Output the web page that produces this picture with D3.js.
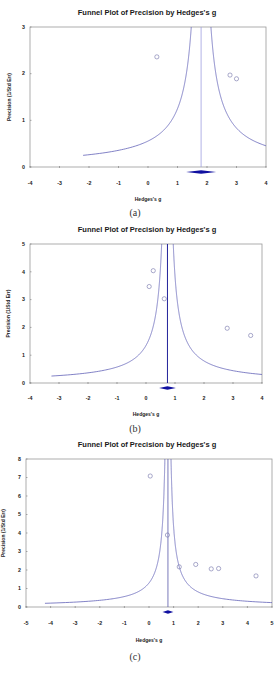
<!DOCTYPE html>
<html>
<head>
<meta charset="utf-8">
<script src="https://cdn.jsdelivr.net/npm/d3@7"></script>
<style>
  body { margin: 0; background: #fff; }
  svg { display: block; }
</style>
</head>
<body>
<svg id="chart" width="275" height="674"></svg>
<script>
// Panel data
var panelNames = ["(a)", "(b)", "(c)"];
var xDomains = [[-4, 4], [-4, 4], [-5, 5]];
var yDomains = [[0, 3], [0, 5], [0, 8]];
var xTickValues = [d3.range(-4, 5), d3.range(-4, 5), d3.range(-5, 6)];
var yTickValues = [d3.range(0, 4), d3.range(0, 6), d3.range(0, 9)];

var effectsA = [0.30, 2.78, 3.00];
var precisionA = [2.36, 1.97, 1.89];
var effectsB = [0.25, 0.11, 0.63, 2.80, 3.61];
var precisionB = [4.04, 3.47, 3.03, 1.97, 1.71];
var effectsC = [0.05, 0.75, 1.23, 1.90, 2.53, 2.83, 4.35];
var precisionC = [7.08, 3.89, 2.17, 2.30, 2.06, 2.08, 1.68];

var pooledMean = [1.80, 0.74, 0.77];
var pooledHalfWidth = [0.51, 0.29, 0.22];   // diamond half width (CI)
var funnelMinPrecision = [0.25, 0.25, 0.20];

var effects = [effectsA, effectsB, effectsC];
var precisions = [precisionA, precisionB, precisionC];

// layout of each panel (pixels)
var boxes = [
  { left: 30, right: 266, top: 27, bottom: 167, title: 15, ticks: 185, xlab: 201, cap: 216, ylabX: 9 },
  { left: 30, right: 262, top: 244, bottom: 383, title: 232, ticks: 400, xlab: 416, cap: 432, ylabX: 8 },
  { left: 26, right: 272, top: 459, bottom: 607, title: 447, ticks: 625, xlab: 642, cap: 660, ylabX: 3 }
];
var midLineColor = ["#a0a0e0", "#22229a", "#5858a8"];

var svg = d3.select("#chart");
var funnelColor = "#6262b8";
var pointColor = "#7070a8";
var labelFont = "Arial, 'Liberation Sans', sans-serif";

boxes.forEach(function(b, i) {
  var g = svg.append("g");
  var x = d3.scaleLinear().domain(xDomains[i]).range([b.left, b.right]);
  var y = d3.scaleLinear().domain(yDomains[i]).range([b.bottom, b.top]);
  var cx = (b.left + b.right) / 2;

  // title
  g.append("text")
    .attr("x", 147).attr("y", b.title)
    .attr("text-anchor", "middle")
    .style("font", "bold 7.5px " + labelFont)
    .attr("fill", "#1a1a1a")
    .text("Funnel Plot of Precision by Hedges's g");

  // clip for the funnel
  var clipId = "clip" + i;
  svg.append("defs").append("clipPath").attr("id", clipId)
    .append("rect")
    .attr("x", b.left).attr("y", b.top)
    .attr("width", b.right - b.left).attr("height", b.bottom - b.top);

  // frame
  g.append("rect")
    .attr("x", b.left).attr("y", b.top)
    .attr("width", b.right - b.left).attr("height", b.bottom - b.top)
    .attr("fill", "none").attr("stroke", "#9a9a9a").attr("stroke-width", 0.8);

  // funnel lines: mean +/- 1/precision
  var ps = d3.range(funnelMinPrecision[i], yDomains[i][1] + 0.5, 0.01);
  var line = d3.line().x(d => x(d[0])).y(d => y(d[1]));
  var m = pooledMean[i];
  [-1, 1].forEach(function(s) {
    g.append("path")
      .datum(ps.map(p => [m + s / p, p]))
      .attr("clip-path", "url(#" + clipId + ")")
      .attr("d", line)
      .attr("fill", "none")
      .attr("stroke", funnelColor)
      .attr("stroke-width", 0.8);
  });

  // vertical line at pooled effect
  g.append("line")
    .attr("x1", x(m)).attr("x2", x(m))
    .attr("y1", b.top).attr("y2", b.bottom)
    .attr("stroke", midLineColor[i])
    .attr("stroke-width", i === 1 ? 1 : 0.8);

  // ticks
  g.selectAll(".xt").data(xTickValues[i]).enter().append("line")
    .attr("x1", d => x(d)).attr("x2", d => x(d))
    .attr("y1", b.bottom - 1).attr("y2", b.bottom + 1)
    .attr("stroke", "#777").attr("stroke-width", 0.6);
  g.selectAll(".yt").data(yTickValues[i]).enter().append("line")
    .attr("x1", b.left).attr("x2", b.left + 1.5)
    .attr("y1", d => y(d)).attr("y2", d => y(d))
    .attr("stroke", "#777").attr("stroke-width", 0.6);

  // tick labels
  g.selectAll(".xl").data(xTickValues[i]).enter().append("text")
    .attr("x", d => x(d)).attr("y", b.ticks)
    .attr("text-anchor", "middle")
    .style("font", "bold 5.3px " + labelFont)
    .attr("fill", "#222")
    .text(d => d);
  g.selectAll(".yl").data(yTickValues[i]).enter().append("text")
    .attr("x", b.left - 5).attr("y", d => y(d) + 1.8)
    .attr("text-anchor", "end")
    .style("font", "bold 5.3px " + labelFont)
    .attr("fill", "#222")
    .text(d => d);

  // axis titles
  g.append("text")
    .attr("x", cx).attr("y", b.xlab)
    .attr("text-anchor", "middle")
    .style("font", "bold 5px " + labelFont)
    .attr("fill", "#222")
    .text("Hedges's g");
  g.append("text")
    .attr("transform", "translate(" + b.ylabX + "," + ((b.top + b.bottom) / 2) + ") rotate(-90)")
    .attr("text-anchor", "middle")
    .attr("dy", "0.35em")
    .style("font", "bold 5px " + labelFont)
    .attr("fill", "#222")
    .text("Precision (1/Std Err)");

  // study points
  g.selectAll(".pt").data(d3.zip(effects[i], precisions[i])).enter().append("circle")
    .attr("cx", d => x(d[0])).attr("cy", d => y(d[1]))
    .attr("r", 2.1)
    .attr("fill", "none")
    .attr("stroke", pointColor)
    .attr("stroke-width", 0.6);

  // pooled diamond
  var dy = b.bottom + 5;
  var h = pooledHalfWidth[i];
  g.append("path")
    .attr("d", "M" + x(m - h) + "," + dy + "L" + x(m) + "," + (dy - 1.8) +
               "L" + x(m + h) + "," + dy + "L" + x(m) + "," + (dy + 1.8) + "Z")
    .attr("fill", "#1010a0");

  // caption
  g.append("text")
    .attr("x", 135).attr("y", b.cap)
    .attr("text-anchor", "middle")
    .style("font", "10px 'Liberation Serif', 'Times New Roman', serif")
    .attr("fill", "#333")
    .text(panelNames[i]);
});
</script>
</body>
</html>
